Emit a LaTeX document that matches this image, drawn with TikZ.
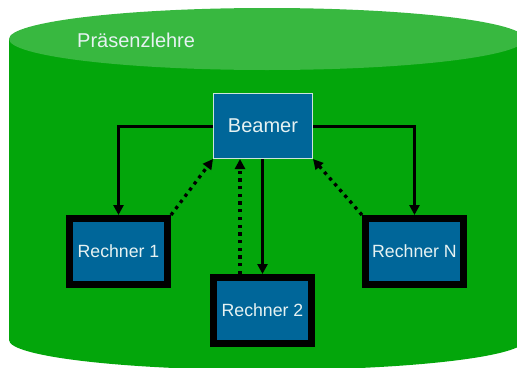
\documentclass[tikz,border=0pt]{standalone}
\usepackage{fontspec}
\setmainfont{Liberation Sans}
\usetikzlibrary{arrows.meta}
\definecolor{topgreen}{RGB}{56,184,64}
\definecolor{bodygreen}{RGB}{3,166,11}
\definecolor{boxblue}{RGB}{0,102,153}
\definecolor{txtcol}{RGB}{230,242,242}
\definecolor{rimcol}{RGB}{205,228,220}
\begin{document}
\begin{tikzpicture}[x=1pt,y=-1pt,
  beamerbox/.style={draw=rimcol, line width=0.8pt, fill=boxblue, text=txtcol,
    minimum width=99.2pt, minimum height=65.2pt, inner sep=0pt,
    font=\fontsize{20}{24}\selectfont},
  pcbox/.style={draw=black, line width=7pt, fill=boxblue, text=txtcol,
    minimum width=98pt, minimum height=66pt, inner sep=0pt,
    font=\fontsize{17.7}{21}\selectfont},
  solidarrow/.style={line width=3pt, -{Triangle[length=10pt,width=10pt]}},
  dotarrow/.style={line width=3.3pt, dash pattern=on 3.3pt off 4.4pt, -{Triangle[length=10pt,width=10pt]}}
]
\useasboundingbox (0,0) rectangle (517,367);
\clip (0,0) rectangle (517,367);
% cylinder
\fill[bodygreen] (9,39) -- (9,340) arc[start angle=180, end angle=0, x radius=258, y radius=30] -- (525,39) -- cycle;
\fill[topgreen] (267,39) ellipse[x radius=258, y radius=31];
\node[anchor=base west, inner sep=0pt, text=txtcol, font=\fontsize{20}{24}\selectfont] (title) at (77,47) {Präsenzlehre};
% boxes
\node[beamerbox] (beamer) at (263,126) {Beamer};
\node[pcbox] (r1) at (118.5,251.5) {Rechner 1};
\node[pcbox] (r2) at (262.5,310.5) {Rechner 2};
\node[pcbox] (rn) at (414.5,251.5) {Rechner N};
% solid arrows
\draw[solidarrow] (beamer.west) -| (r1.north);
\draw[solidarrow] (beamer.east) -| (rn.north);
\draw[solidarrow] (beamer.south -| r2.north) -- (r2.north);
% dotted arrows
\draw[dotarrow] ([xshift=-22.5pt]r2.north) -- ([xshift=-22.5pt]r2.north |- beamer.south);
\draw[dotarrow] (r1.north east) -- (beamer.south west);
\draw[dotarrow] (rn.north west) -- (beamer.south east);
\end{tikzpicture}
\end{document}
